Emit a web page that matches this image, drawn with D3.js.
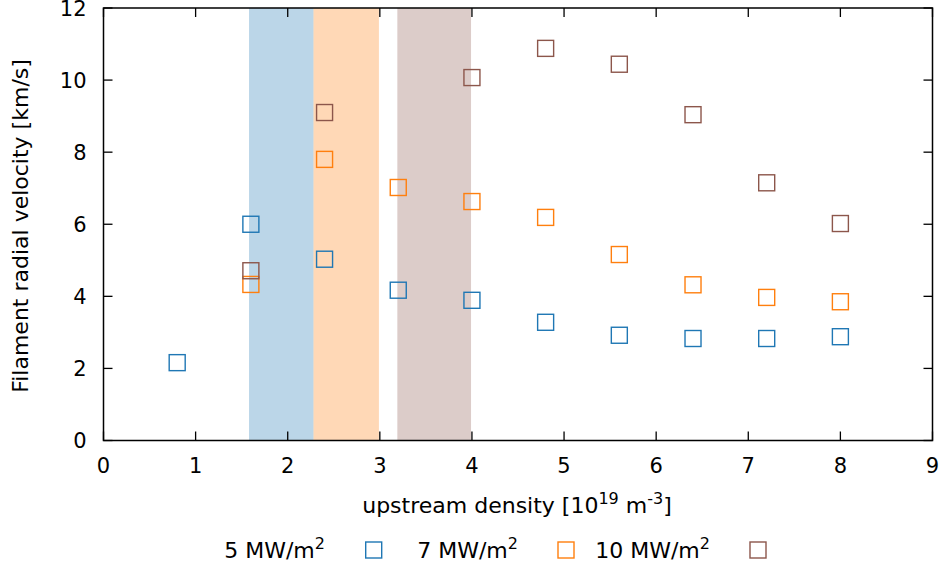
<!DOCTYPE html>
<html><head><meta charset="utf-8">
<script src="https://cdn.jsdelivr.net/npm/d3@7"></script>
<style>body{margin:0;background:#fff}svg{display:block}text{font-family:"DejaVu Sans",sans-serif;fill:#000}</style>
</head><body>
<svg id="c" width="944" height="570"></svg>
<script>
const xTicks=[0,1,2,3,4,5,6,7,8,9];
const yTicks=[0,2,4,6,8,10,12];
const bands=[{x0:1.58,x1:2.28,c:"#1f77b4"},{x0:2.28,x1:2.99,c:"#ff7f0e"},{x0:3.19,x1:3.99,c:"#8c564b"}];
const seriesNames=["5 MW/m","7 MW/m","10 MW/m"];
const seriesColors=["#1f77b4","#ff7f0e","#8c564b"];
const x5=[0.8,1.6,2.4,3.2,4.0,4.8,5.6,6.4,7.2,8.0];
const y5=[2.16,6.0,5.03,4.17,3.89,3.28,2.92,2.83,2.83,2.88];
const x7=[1.6,2.4,3.2,4.0,4.8,5.6,6.4,7.2,8.0];
const y7=[4.33,7.8,7.02,6.63,6.19,5.16,4.32,3.97,3.85];
const x10=[1.6,2.4,4.0,4.8,5.6,6.4,7.2,8.0];
const y10=[4.71,9.1,10.07,10.88,10.44,9.04,7.15,6.02];
const series=[[x5,y5],[x7,y7],[x10,y10]];

const svg=d3.select("#c");
const L=103.5,R=932.5,T=8,B=440.5;
const x=d3.scaleLinear().domain([0,9]).range([L,R]);
const y=d3.scaleLinear().domain([0,12]).range([B,T]);

svg.selectAll("rect.band").data(bands).enter().append("rect")
 .attr("x",d=>x(d.x0)).attr("width",d=>x(d.x1)-x(d.x0))
 .attr("y",T).attr("height",B-T).attr("fill",d=>d.c).attr("fill-opacity",0.3);

const tl=9;
const g=svg.append("g").attr("stroke","#000").attr("stroke-width",1.3);
xTicks.forEach(t=>{
 g.append("line").attr("x1",x(t)).attr("x2",x(t)).attr("y1",B).attr("y2",B-tl);
 g.append("line").attr("x1",x(t)).attr("x2",x(t)).attr("y1",T).attr("y2",T+tl);
});
yTicks.forEach(t=>{
 g.append("line").attr("x1",L).attr("x2",L+tl).attr("y1",y(t)).attr("y2",y(t));
 g.append("line").attr("x1",R).attr("x2",R-tl).attr("y1",y(t)).attr("y2",y(t));
});
svg.append("rect").attr("x",L).attr("y",T).attr("width",R-L).attr("height",B-T)
 .attr("fill","none").attr("stroke","#000").attr("stroke-width",1.5);

svg.selectAll("text.xt").data(xTicks).enter().append("text")
 .attr("x",d=>x(d)).attr("y",B+32).attr("text-anchor","middle").attr("font-size",21).text(d=>d);
svg.selectAll("text.yt").data(yTicks).enter().append("text")
 .attr("x",L-17).attr("y",d=>y(d)+7.7).attr("text-anchor","end").attr("font-size",21).text(d=>d);

const s=16;
series.forEach((sr,i)=>{
 svg.append("g").selectAll("rect").data(sr[0].map((v,j)=>[v,sr[1][j]])).enter().append("rect")
  .attr("x",d=>x(d[0])-s/2).attr("y",d=>y(d[1])-s/2).attr("width",s).attr("height",s)
  .attr("fill","none").attr("stroke",seriesColors[i]).attr("stroke-width",1.4);
});

const xl=svg.append("text").attr("x",517).attr("y",513).attr("text-anchor","middle").attr("font-size",22);
xl.append("tspan").text("upstream density [10");
xl.append("tspan").attr("dy",-9).attr("font-size",16).text("19");
xl.append("tspan").attr("dy",9).text(" m");
xl.append("tspan").attr("dy",-9).attr("font-size",16).text("-3");
xl.append("tspan").attr("dy",9).text("]");

svg.append("text").attr("transform","translate(28,226) rotate(-90)").attr("text-anchor","middle")
 .attr("font-size",22).text("Filament radial velocity [km/s]");

const legTextEnd=[325,518,710];
const legMark=[373.7,566,758];
const ly=558;
seriesNames.forEach((n,i)=>{
 const t=svg.append("text").attr("x",legTextEnd[i]).attr("y",ly).attr("text-anchor","end").attr("font-size",22);
 t.append("tspan").text(n);
 t.append("tspan").attr("dy",-9).attr("font-size",16).text("2");
 svg.append("rect").attr("x",legMark[i]-8).attr("y",ly-16).attr("width",16).attr("height",16)
  .attr("fill","none").attr("stroke",seriesColors[i]).attr("stroke-width",1.4);
});
</script>
</body></html>
